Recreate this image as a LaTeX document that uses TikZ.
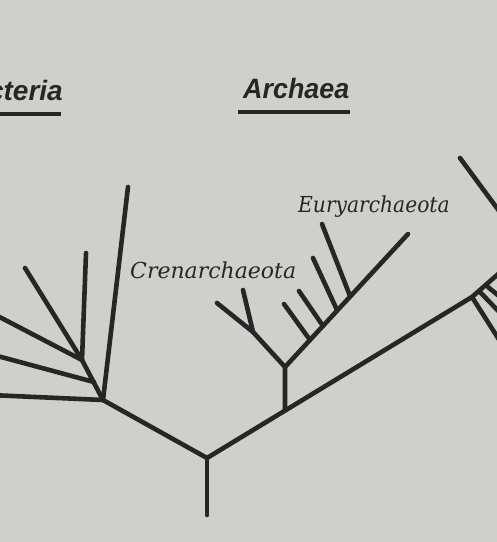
\documentclass[tikz,border=0pt]{standalone}
\usepackage{fontspec}
\newfontfamily\titlefont{Liberation Sans}
\newfontfamily\labelfont{DejaVu Serif}
\definecolor{paper}{HTML}{CFCFCB}
\definecolor{ink}{HTML}{262626}
\begin{document}
\begin{tikzpicture}[x=1pt,y=-1pt,
  branch/.style={draw=ink,line width=4.6pt,line cap=round,line join=round},
  title/.style={font=\titlefont\bfseries\itshape\fontsize{28}{28}\selectfont,text=ink,inner sep=0pt},
  taxon/.style={font=\labelfont\itshape\fontsize{22}{22}\selectfont,text=ink,inner sep=0pt},
  rule/.style={draw=ink,line width=4pt}]
\useasboundingbox (0,0) rectangle (497,542);
\fill[paper] (0,0) rectangle (497,542);
\clip (0,0) rectangle (497,542);
% titles
\node[title,anchor=base east] (bact) at (63,100) {Bacteria};
\node[title,anchor=base west] (arch) at (243,98) {\scalebox{0.96}[1]{Archaea}};
\coordinate (bu1) at (-5,114); \coordinate (bu2) at (61,114);
\coordinate (au1) at (238,112); \coordinate (au2) at (350,112);
\draw[rule] (bu1) -- (bu2);
\draw[rule] (au1) -- (au2);
\node[taxon,anchor=base west] (cren) at (130,278) {Crenarchaeota};
\node[taxon,anchor=base west] (eury) at (298,212) {\scalebox{0.92}[1]{Euryarchaeota}};
% root
\coordinate (root) at (207,458);
\coordinate (rootb) at (207,515);
% bacteria
\coordinate (B) at (103,400);
\coordinate (Bl) at (-10,395);
\coordinate (Blong) at (128,187);
\coordinate (B1) at (82,360);
\coordinate (B1a) at (25,268);
\coordinate (B1b) at (86,253);
\coordinate (B1c) at (-10,312);
\coordinate (Bj) at (94,382);
\coordinate (Bd) at (-10,354);
% archaea
\coordinate (A) at (285,410);
\coordinate (A1) at (285,367);
\coordinate (C) at (253,332);
\coordinate (Ca) at (217,303);
\coordinate (Cb) at (243,290);
\coordinate (Et) at (408,234);
\coordinate (e1) at (310,340); \coordinate (l1) at (284,304);
\coordinate (e2) at (323,326); \coordinate (l2) at (299,291);
\coordinate (e3) at (337,310); \coordinate (l3) at (313,258);
\coordinate (e4) at (350,296); \coordinate (l4) at (322,224);
% right side
\coordinate (R) at (472,297);
\coordinate (Rend) at (505,268);
\coordinate (Ra) at (505,349);
\coordinate (Rb1) at (480,292); \coordinate (Rb2) at (505,318);
\coordinate (Rc1) at (488,287); \coordinate (Rc2) at (505,301);
\coordinate (U1) at (460,158); \coordinate (U2) at (505,219);
% draw
\draw[branch] (rootb) -- (root);
\draw[branch] (root) -- (B) -- (Bl);
\draw[branch] (B) -- (Blong);
\draw[branch] (B) -- (B1) -- (B1a);
\draw[branch] (B1) -- (B1b);
\draw[branch] (B1) -- (B1c);
\draw[branch] (Bj) -- (Bd);
\draw[branch] (root) -- (R) -- (Rend);
\draw[branch] (R) -- (Ra);
\draw[branch] (Rb1) -- (Rb2);
\draw[branch] (Rc1) -- (Rc2);
\draw[branch] (U1) -- (U2);
\draw[branch] (A) -- (A1) -- (C) -- (Ca);
\draw[branch] (C) -- (Cb);
\draw[branch] (A1) -- (Et);
\draw[branch] (e1) -- (l1);
\draw[branch] (e2) -- (l2);
\draw[branch] (e3) -- (l3);
\draw[branch] (e4) -- (l4);
\end{tikzpicture}
\end{document}
